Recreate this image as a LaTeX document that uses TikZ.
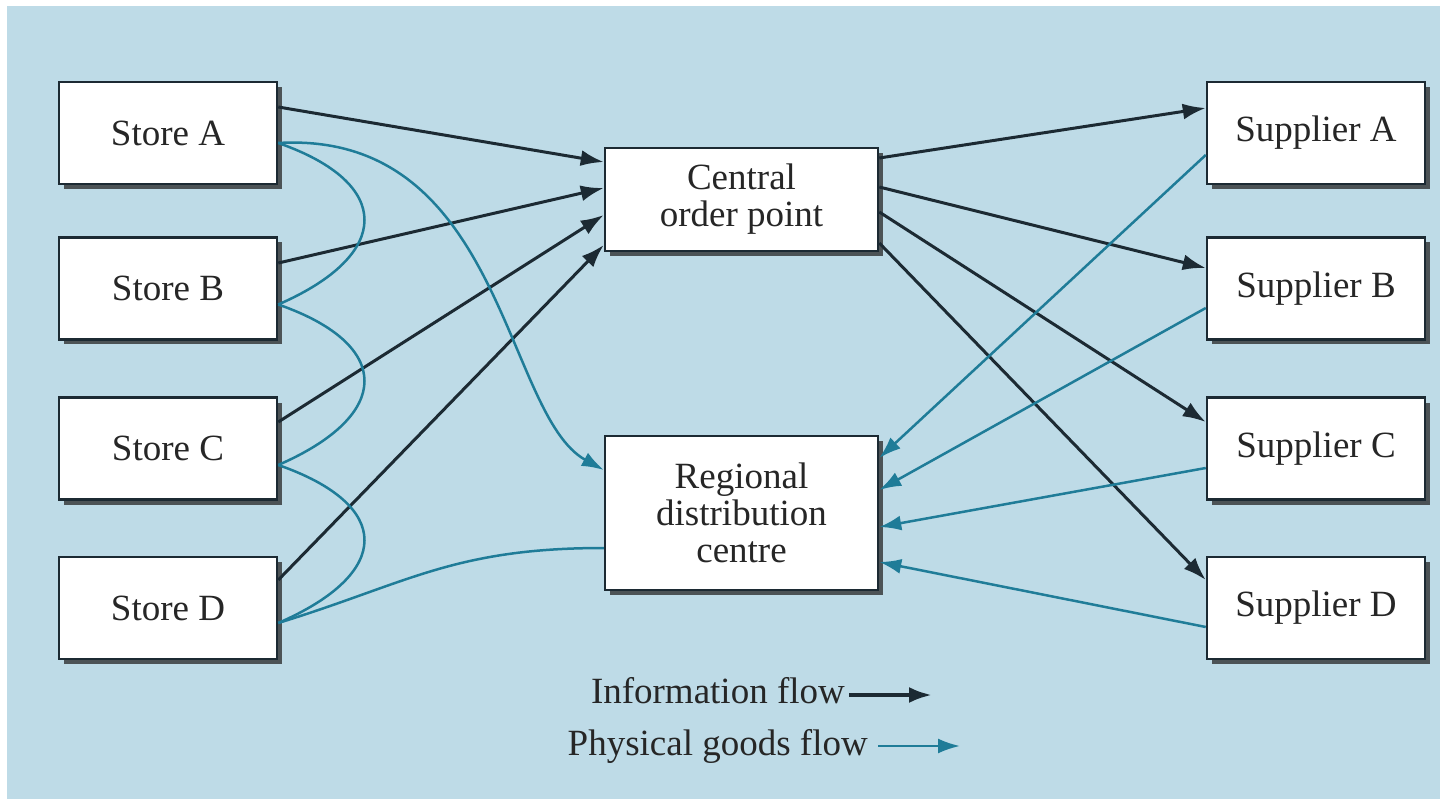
\documentclass[tikz,border=0pt]{standalone}
\usepackage{fontspec}
\setmainfont{Liberation Serif}
\usetikzlibrary{arrows.meta,shadows}
\definecolor{bg}{HTML}{BEDBE7}
\definecolor{info}{HTML}{1C2A33}
\definecolor{goods}{HTML}{1F7C98}
\definecolor{txt}{HTML}{262626}
\begin{document}
\begin{tikzpicture}[x=1pt,y=-1pt,
  box/.style={draw=info, line width=2.5pt, fill=white, minimum width=218pt,
    minimum height=102pt, align=center, text=txt,
    font=\fontsize{37}{37}\selectfont,
    drop shadow={shadow xshift=5pt, shadow yshift=-5pt, opacity=0.75, fill=black!85}},
  legtext/.style={inner sep=0pt, text=txt, font=\fontsize{37}{37}\selectfont},
  infoarrow/.style={draw=info, line width=3pt, -{Latex[length=23pt,width=16pt]}},
  goodsarrow/.style={draw=goods, line width=2.5pt, -{Latex[length=22pt,width=15pt]}},
  goodsline/.style={draw=goods, line width=2.5pt}]
\useasboundingbox (0,0) rectangle (1445,799);
\fill[bg] (7,6) rectangle (1440,799);

% stores
\node[box] (sa) at (168,133) {Store A};
\node[box] (sb) at (168,288.5) {Store B};
\node[box] (sc) at (168,448.5) {Store C};
\node[box] (sd) at (168,608) {Store D};
% centre
\node[box, minimum width=273pt, minimum height=103pt] (cop) at (741.5,199.5) {Central\\order point};
\node[box, minimum width=273pt, minimum height=154pt] (rdc) at (741.5,513) {Regional\\distribution\\centre};
% suppliers
\node[box] (pa) at (1316,133) {Supplier A};
\node[box] (pb) at (1316,288.5) {Supplier B};
\node[box] (pc) at (1316,448.5) {Supplier C};
\node[box] (pd) at (1316,608) {Supplier D};

% information flow
\draw[infoarrow] ([yshift=26pt]sa.east) -- ([yshift=37.5pt]cop.west);
\draw[infoarrow] ([yshift=25.5pt]sb.east) -- ([yshift=11.5pt]cop.west);
\draw[infoarrow] ([yshift=26.5pt]sc.east) -- ([yshift=-15.5pt]cop.west);
\draw[infoarrow] ([yshift=28pt]sd.east) -- ([yshift=-45.5pt]cop.west);
\draw[infoarrow] ([yshift=41.5pt]cop.east) -- ([yshift=25pt]pa.west);
\draw[infoarrow] ([yshift=12.5pt]cop.east) -- ([yshift=20.5pt]pb.west);
\draw[infoarrow] ([yshift=-12.5pt]cop.east) -- ([yshift=26.5pt]pc.west);
\draw[infoarrow] ([yshift=-43.5pt]cop.east) -- ([yshift=28pt]pd.west);

% physical goods flow
\draw[goodsline] ([yshift=-10pt]sa.east) .. controls +(115,40) and +(115,-50) .. ([yshift=-16pt]sb.east);
\draw[goodsline] ([yshift=-16pt]sb.east) .. controls +(115,40) and +(115,-50) .. ([yshift=-16.5pt]sc.east);
\draw[goodsline] ([yshift=-16.5pt]sc.east) .. controls +(115,40) and +(115,-50) .. ([yshift=-15pt]sd.east);
\draw[goodsarrow] ([yshift=-10pt]sa.east) .. controls +(225,-13) and +(-100,-55) .. ([yshift=43pt]rdc.west);
\draw[goodsline] ([yshift=-35pt]rdc.west) .. controls +(-150,0) and +(130,-40) .. ([yshift=-15pt]sd.east);
\draw[goodsarrow] ([yshift=-22pt]pa.west) -- ([yshift=55pt]rdc.east);
\draw[goodsarrow] ([yshift=-19.5pt]pb.west) -- ([yshift=23pt]rdc.east);
\draw[goodsarrow] ([yshift=-19.5pt]pc.west) -- ([yshift=-14pt]rdc.east);
\draw[goodsarrow] ([yshift=-19pt]pd.west) -- ([yshift=-49pt]rdc.east);

% legend
\node[legtext, anchor=base east] (lg1) at (845,703) {Information flow};
\coordinate (le1) at (932,695);
\draw[infoarrow, line width=4pt] ([xshift=4pt]lg1.east |- le1) -- (le1);
\node[legtext, anchor=base east] (lg2) at (868,755) {Physical goods flow};
\coordinate (le2) at (960,746);
\draw[goodsarrow] ([xshift=10pt]lg2.east |- le2) -- (le2);
\end{tikzpicture}
\end{document}
